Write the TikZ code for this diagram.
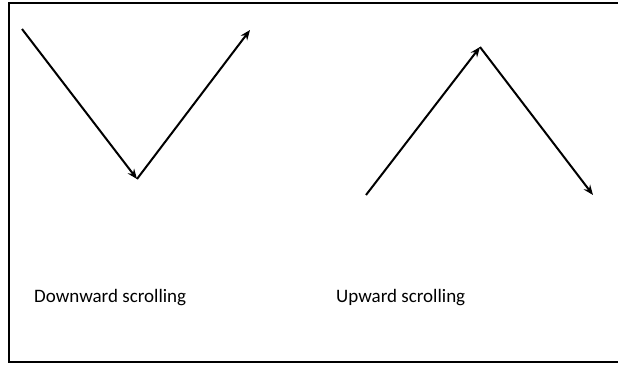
\documentclass[tikz,border=0pt]{standalone}
\usepackage{fontspec}
\setmainfont{Carlito}
\usetikzlibrary{arrows.meta}
\tikzstyle{arrow} = [line width=2pt,->,>={Stealth[length=10pt,width=8pt]}]
\tikzstyle{caption} = [font=\fontsize{19}{22}\selectfont, anchor=west, inner sep=0pt]
\tikzstyle{frame} = [line width=2pt]

\begin{document}
\begin{tikzpicture}[x=1pt, y=-1pt]
    \useasboundingbox (0,0) rectangle (618,364);
    \draw [frame] (618,2.5) -- (9,2.5) -- (9,362) -- (618,362);

    % downward scrolling
    \coordinate (dtop) at (22,29);
    \coordinate (dlow) at (137,179);
    \coordinate (dend) at (250,30);
    \draw [arrow] (dtop) -- (dlow);
    \draw [arrow] (dlow) -- (dend);

    % upward scrolling
    \coordinate (ustart) at (366,195);
    \coordinate (upeak) at (480,47);
    \coordinate (uend) at (593,195);
    \draw [arrow] (ustart) -- (upeak);
    \draw [arrow] (upeak) -- (uend);

    \node (down) [caption] at (34,298) {Downward scrolling};
    \node (up) [caption] at (336,298) {Upward scrolling};
\end{tikzpicture}
\end{document}
